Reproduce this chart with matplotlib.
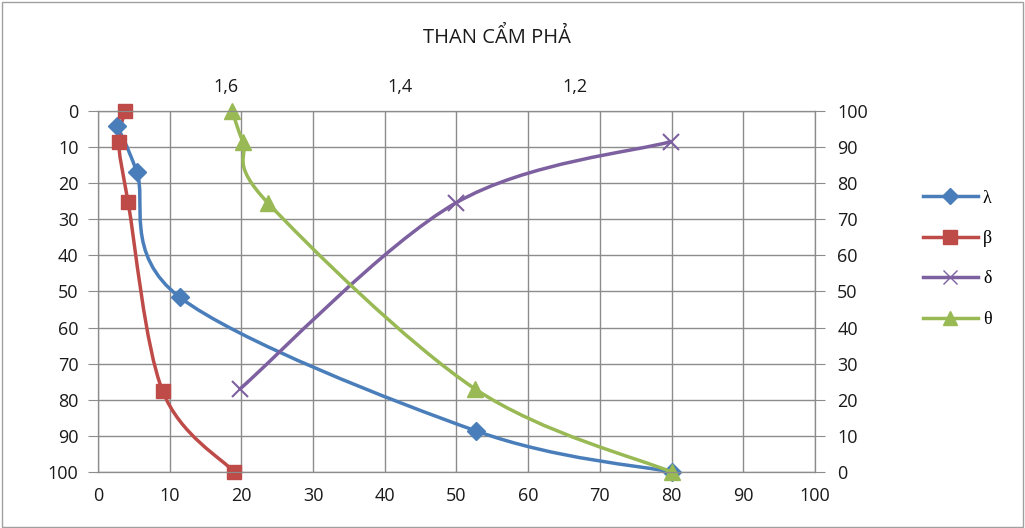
import numpy as np
import matplotlib.pyplot as plt
from matplotlib.path import Path
from matplotlib.patches import PathPatch, Rectangle
from matplotlib.lines import Line2D

plt.rcParams['font.family'] = ['Open Sans', 'DejaVu Sans']

# series (x on bottom axis)
lam_x = [2.7, 5.4, 11.4, 52.7, 80.0]
lam_y = [4.2, 16.8, 51.6, 88.6, 100.0]      # left axis (inverted)
beta_x = [3.8, 2.9, 4.2, 9.0, 19.0]
beta_y = [0.0, 8.7, 25.3, 77.5, 100.0]      # left axis (inverted)
delta_x = [19.8, 49.9, 79.9]
delta_y = [23.0, 74.5, 91.5]                # right axis
theta_x = [18.7, 20.2, 23.7, 52.6, 80.0]
theta_y = [100.0, 91.4, 74.5, 23.0, 0.0]    # right axis

top_ticks = [1.6, 1.4, 1.2]
top_labels = ['1,6', '1,4', '1,2']

c_lam, c_beta, c_delta, c_theta = '#4A7EBB', '#BE4B48', '#7D60A0', '#98B954'
grid_c = '#8C8C8C'
txt_c = '#1A1A1A'
fs = 13


def smooth_path(xs, ys):
    # excel-like smoothed line: cubic bezier through the points
    p = np.column_stack([xs, ys]).astype(float)
    n = len(p)
    verts = [p[0]]
    codes = [Path.MOVETO]
    for i in range(n - 1):
        p0 = p[i - 1] if i > 0 else p[i]
        p3 = p[i + 2] if i + 2 < n else p[i + 1]
        c1 = p[i] + (p[i + 1] - p0) / 6.0
        c2 = p[i + 1] - (p3 - p[i]) / 6.0
        verts += [c1, c2, p[i + 1]]
        codes += [Path.CURVE4] * 3
    return Path(verts, codes)


fig = plt.figure(figsize=(10.25, 5.28), dpi=100)
fig.patches.append(Rectangle((0.002, 0.002), 0.996, 0.994, transform=fig.transFigure,
                             fill=False, edgecolor='#A0A0A0', linewidth=1))
ax = fig.add_axes([0.0956, 0.106, 0.6995, 0.684])
ax.set_xlim(0, 100)
ax.set_ylim(100, 0)
ax.set_xticks(range(0, 101, 10))
ax.set_yticks(range(0, 101, 10))
ax.grid(True, color=grid_c, linewidth=1)
ax.set_axisbelow(True)
for s in ax.spines.values():
    s.set_color(grid_c)
ax.tick_params(axis='x', length=0, pad=11, labelsize=fs, labelcolor=txt_c)
ax.tick_params(axis='y', length=7, color=grid_c, pad=7, labelsize=fs, labelcolor=txt_c)

ax2 = ax.twinx()
ax2.set_ylim(0, 100)
ax2.set_yticks(range(0, 101, 10))
ax2.tick_params(axis='y', length=7, color=grid_c, pad=9, labelsize=fs, labelcolor=txt_c)
for s in ax2.spines.values():
    s.set_color(grid_c)

ax3 = ax.twiny()
ax3.set_xlim(1.746, 0.926)
ax3.set_xticks(top_ticks)
ax3.set_xticklabels(top_labels)
ax3.tick_params(axis='x', length=0, pad=11, labelsize=fs, labelcolor=txt_c)
for s in ax3.spines.values():
    s.set_color(grid_c)

lw = 2.5
for xs, ys, c, a in [(lam_x, lam_y, c_lam, ax), (beta_x, beta_y, c_beta, ax),
                     (delta_x, delta_y, c_delta, ax2), (theta_x, theta_y, c_theta, ax2)]:
    a.add_patch(PathPatch(smooth_path(xs, ys), facecolor='none', edgecolor=c,
                          linewidth=lw, capstyle='round', zorder=3))

ax.plot(lam_x, lam_y, 'D', color=c_lam, ms=9, zorder=4, clip_on=False)
ax.plot(beta_x, beta_y, 's', color=c_beta, ms=10.5, zorder=4, clip_on=False)
ax2.plot(delta_x, delta_y, 'x', color=c_delta, ms=11, mew=1.5, zorder=4, clip_on=False)
ax2.plot(theta_x, theta_y, '^', color=c_theta, ms=11.5, zorder=4, clip_on=False)

handles = [
    Line2D([], [], color=c_lam, lw=lw, marker='D', ms=8),
    Line2D([], [], color=c_beta, lw=lw, marker='s', ms=9.5),
    Line2D([], [], color=c_delta, lw=lw, marker='x', ms=10, mew=1.0),
    Line2D([], [], color=c_theta, lw=lw, marker='^', ms=10),
]
fig.legend(handles, ['λ', 'β', 'δ', 'θ'], loc='center left',
           bbox_to_anchor=(0.885, 0.51), frameon=False, handlelength=3.0,
           labelspacing=1.3, prop={'family': 'Liberation Serif', 'size': 13},
           handletextpad=0.3)

fig.text(0.485, 0.93, 'THAN CẨM PHẢ', ha='center', va='center', fontsize=14.5,
         color=txt_c)

fig.savefig('out.png', dpi=100)
